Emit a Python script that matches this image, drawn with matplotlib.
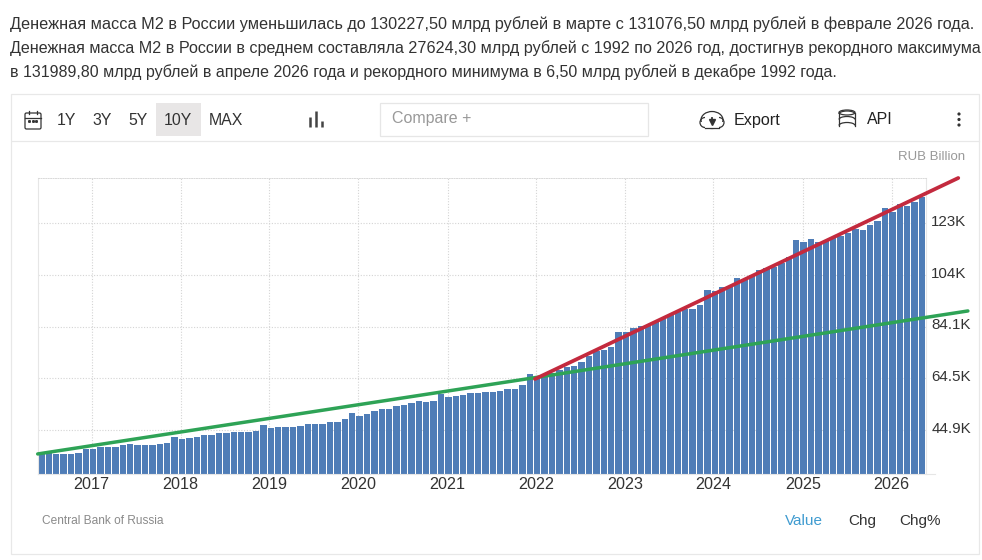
import matplotlib
matplotlib.use("Agg")
import matplotlib.pyplot as plt
from matplotlib.patches import Rectangle, Circle, Ellipse, Arc, FancyBboxPatch
from matplotlib.transforms import ScaledTranslation

# -----------------------------
# Data (RUB billion, thousands), one bar per month from mid 2016
# -----------------------------
m2_values = [
    35.7, 36.1, 35.8, 35.8, 35.7, 36.2, 37.6, 37.8, 38.6, 38.3, 38.3, 39.1,
    39.5, 39.1, 39.1, 39.1, 39.5, 39.9, 42.2, 41.4, 41.8, 42.1, 42.9, 42.9,
    43.6, 43.6, 44.0, 44.0, 44.0, 44.4, 46.7, 45.7, 45.9, 45.9, 45.9, 46.4,
    47.1, 47.1, 47.1, 47.9, 47.9, 49.1, 51.3, 50.2, 51.0, 52.1, 52.7, 52.9,
    54.0, 54.4, 55.1, 55.9, 55.5, 55.9, 58.5, 57.4, 57.8, 58.2, 58.9, 58.9,
    59.3, 59.3, 59.7, 60.4, 60.4, 61.9, 66.1, 64.2, 65.4, 66.4, 67.6, 68.6,
    69.1, 70.7, 72.9, 74.8, 75.2, 76.2, 82.0, 82.0, 83.5, 84.3, 84.7, 85.8,
    87.3, 88.5, 89.6, 90.7, 90.7, 92.3, 97.9, 97.4, 99.1, 99.1, 102.4, 102.0,
    103.6, 105.5, 106.3, 106.5, 108.0, 110.4, 116.9, 116.1, 117.2, 116.1, 116.4, 117.5,
    118.6, 119.6, 120.9, 120.7, 122.6, 124.2, 129.0, 127.5, 130.4, 129.8, 131.3, 133.3,
]
year_labels = ["2017", "2018", "2019", "2020", "2021", "2022", "2023", "2024", "2025", "2026"]
year_pos = [6.8, 18.8, 30.8, 42.8, 54.9, 66.9, 78.9, 90.8, 102.9, 114.9]
y_ticks = [44.9, 64.5, 84.1, 103.7, 123.3]
y_labels = ["44.9K", "64.5K", "84.1K", "104K", "123K"]

# trend lines drawn over the bars
green_x = [-0.5, 66.4, 125.2]
green_y = [35.8, 64.6, 90.0]
red_x = [66.7, 123.9]
red_y = [64.2, 140.4]

intro_lines = [
    "Денежная масса М2 в России уменьшилась до 130227,50 млрд рублей в марте с 131076,50 млрд рублей в феврале 2026 года.",
    "Денежная масса М2 в России в среднем составляла 27624,30 млрд рублей с 1992 по 2026 год, достигнув рекордного максимума",
    "в 131989,80 млрд рублей в апреле 2026 года и рекордного минимума в 6,50 млрд рублей в декабре 1992 года.",
]
intro_sizes = [11.7, 11.6, 11.5]
range_buttons = ["1Y", "3Y", "5Y", "10Y", "MAX"]
range_x = [66, 102, 138, 178, 226]

plt.rcParams["font.family"] = ["Liberation Sans", "DejaVu Sans"]

W, H = 982, 560
fig = plt.figure(figsize=(W / 100, H / 100), dpi=100, facecolor="white")

# -----------------------------
# Page furniture, in pixel coordinates
# -----------------------------
page = fig.add_axes([0, 0, 1, 1], zorder=0)
page.set_xlim(0, W)
page.set_ylim(H, 0)
page.axis("off")

for y, line, size in zip([24, 48, 72], intro_lines, intro_sizes):
    page.text(10, y, line, fontsize=size, color="#333333", va="center", ha="left")

page.add_patch(Rectangle((11.5, 93.5), 968, 460, fc="white", ec="#e8e8e8", lw=0.9))
page.plot([12, 979], [140.5, 140.5], color="#e8e8e8", lw=0.9)

page.add_patch(Rectangle((156, 103), 45, 33, fc="#e8e6e6", ec="none"))
for x, label in zip(range_x, range_buttons):
    page.text(x, 120.5, label, fontsize=11.4, color="#333333", ha="center", va="center")

# calendar icon
page.add_patch(FancyBboxPatch((25, 113), 16, 16, boxstyle="round,pad=0,rounding_size=1.5",
                              fc="none", ec="#333333", lw=0.9))
page.plot([25, 41], [117.5, 117.5], color="#333333", lw=0.9)
page.plot([29, 29], [110.5, 114], color="#333333", lw=0.9)
page.plot([37, 37], [110.5, 114], color="#333333", lw=0.9)
page.plot([29.5, 33, 36.5], [120.5, 120.5, 120.5], ls="none", marker="s", ms=1.1, color="#333333")

# chart type icon
for x, top in zip([310, 316, 322], [117, 111, 121]):
    page.plot([x, x], [top, 126.5], color="#444444", lw=1.8, solid_capstyle="butt")

page.add_patch(Rectangle((380.5, 102.5), 268, 33, fc="white", ec="#e6e6e6", lw=0.9))
page.text(392, 119, "Compare +", fontsize=11.5, color="#999999", ha="left", va="center")

# cloud icon
page.add_patch(Ellipse((712, 120), 22, 17, fc="none", ec="#333333", lw=0.9))
page.add_patch(Rectangle((700, 122), 24, 6, fc="white", ec="none", zorder=2))
page.plot([705, 719], [127.5, 127.5], color="#333333", lw=0.9, zorder=3)
page.add_patch(Arc((705, 122.5), 10, 10, theta1=90, theta2=270, ec="#333333", lw=0.9, zorder=3))
page.add_patch(Arc((719, 122.5), 10, 10, theta1=-90, theta2=90, ec="#333333", lw=0.9, zorder=3))
page.plot([712], [122], marker="v", ms=4, color="#333333", zorder=3)
page.plot([712, 712], [118, 122], color="#333333", lw=1.3, zorder=3)
page.text(734, 120.5, "Export", fontsize=11.6, color="#222222", ha="left", va="center")

# database icon
for y in [114, 119.5]:
    page.add_patch(Arc((847, y), 16, 6, theta1=180, theta2=360, ec="#333333", lw=0.9))
page.add_patch(Ellipse((847, 112.5), 16, 5, fc="none", ec="#333333", lw=0.9))
page.add_patch(Arc((847, 125.5), 16, 6, theta1=180, theta2=360, ec="#333333", lw=0.9))
page.plot([839, 839], [112.5, 125.5], color="#333333", lw=0.9)
page.plot([855, 855], [112.5, 125.5], color="#333333", lw=0.9)
page.text(867, 120, "API", fontsize=11.5, color="#222222", ha="left", va="center")

# menu dots
for y in [114, 119.5, 125]:
    page.add_patch(Circle((959, y), 1.6, fc="#333333", ec="none"))

page.text(965, 157.5, "RUB Billion", fontsize=9.5, color="#999999", ha="right", va="center")
page.text(42, 521, "Central Bank of Russia", fontsize=8.6, color="#8a8a8a", ha="left", va="center")
page.text(785, 521, "Value", fontsize=11, color="#3f9bd0", ha="left", va="center")
page.text(848, 521, "Chg", fontsize=11, color="#333333", ha="left", va="center")
page.text(899, 521, "Chg%", fontsize=11, color="#333333", ha="left", va="center")

# -----------------------------
# Chart
# -----------------------------
ax = fig.add_axes([37.7 / W, 1 - 474 / H, 888 / W, 296 / H], zorder=1)
ax.patch.set_alpha(0)
months = list(range(len(m2_values)))
ax.bar(months, m2_values, width=0.84, color="#4f7db7", zorder=2)
ax.plot(green_x, green_y, color="#2ea356", lw=2.5, zorder=3, clip_on=False, solid_capstyle="round")
ax.plot(red_x, red_y, color="#c32a3e", lw=2.7, zorder=4, clip_on=False, solid_capstyle="round")

ax.set_xlim(-0.5, 119.5)
ax.set_ylim(28.2, 140.4)
ax.set_xticks(year_pos)
ax.set_xticklabels(year_labels)
ax.set_yticks(y_ticks)
ax.set_yticklabels(y_labels)
ax.yaxis.tick_right()
ax.tick_params(axis="both", length=0, labelcolor="#333333")
ax.tick_params(axis="x", pad=2, labelsize=11.6)
ax.tick_params(axis="y", pad=4, labelsize=10.9)
ax.grid(True, color="#d4d4d4", lw=0.8, ls=(0, (1, 1.5)), zorder=0)
ax.set_axisbelow(True)

# value labels sit a little above their grid lines
for label in ax.get_yticklabels():
    label.set_transform(label.get_transform() + ScaledTranslation(0, 2 / 72, fig.dpi_scale_trans))

ax.spines["top"].set_color("#d9d9d9")
ax.spines["top"].set_linewidth(0.7)
ax.spines["top"].set_linestyle((0, (1, 1.5)))
ax.spines["left"].set_color("#e6e6e6")
ax.spines["right"].set_color("#e6e6e6")
ax.spines["bottom"].set_color("#e6e6e6")
ax.spines["bottom"].set_bounds(-0.5, 120.8)

fig.savefig("out.png", dpi=100)
